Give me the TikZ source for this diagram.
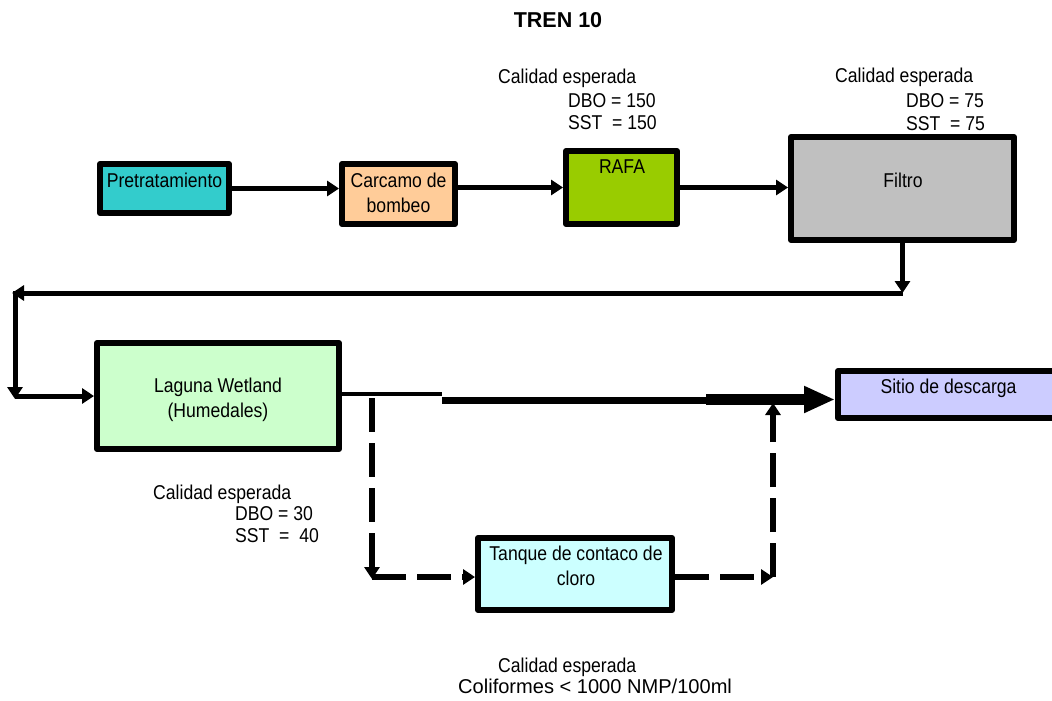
\documentclass[tikz,border=0pt]{standalone}
\usepackage{graphicx}
\usepackage{fontspec}
\setmainfont{Liberation Sans}[FakeStretch=0.88]
\newfontfamily\titlefont{Liberation Sans}
\usetikzlibrary{arrows.meta}
\definecolor{cPre}{HTML}{33CCCC}
\definecolor{cCar}{HTML}{FFCC99}
\definecolor{cRafa}{HTML}{99CC00}
\definecolor{cFil}{HTML}{C0C0C0}
\definecolor{cLag}{HTML}{CCFFCC}
\definecolor{cSit}{HTML}{CCCCFF}
\definecolor{cTan}{HTML}{CCFFFF}
\begin{document}
\begin{tikzpicture}[x=1pt,y=-1pt,
  box/.style={draw=black, line width=6pt, line join=round, inner sep=0pt, outer sep=3pt},
  txt/.style={inner sep=0pt, anchor=base, font=\fontsize{20}{24}\selectfont},
  ltxt/.style={txt, anchor=base west},
  arr/.style={line width=5pt, -{Triangle[length=12pt,width=15pt]}},
  dsh/.style={arr, line width=5.5pt, dash pattern=on 34pt off 11pt}]
\useasboundingbox (0,0) rectangle (1052,701);
% title
\node[inner sep=0pt, anchor=base, font={\titlefont\fontsize{21.5}{26}\selectfont\bfseries}] (title) at (558,28) {TREN 10};
% boxes
\node[box, fill=cPre, minimum width=129pt, minimum height=49pt] (pre) at (164.5,188.5) {};
\node[txt] (preT) at (164.5,187) {Pretratamiento};
\node[box, fill=cCar, minimum width=113pt, minimum height=60pt] (car) at (398.5,194) {};
\node[txt] (carT1) at (398.5,187) {Carcamo de};
\node[txt] (carT2) at (398.5,212) {bombeo};
\node[box, fill=cRafa, minimum width=111pt, minimum height=73pt] (rafa) at (621.5,187.5) {};
\node[txt] (rafaT) at (622,173) {RAFA};
\node[box, fill=cFil, minimum width=223pt, minimum height=103pt] (fil) at (902.5,188.5) {};
\node[txt] (filT) at (903,187) {Filtro};
\node[box, fill=cLag, minimum width=242pt, minimum height=106pt] (lag) at (218,396) {};
\node[txt] (lagT1) at (218,392) {Laguna Wetland};
\node[txt] (lagT2) at (218,417) {(Humedales)};
\node[box, fill=cSit, minimum width=221pt, minimum height=47pt] (sit) at (948.5,394.5) {};
\node[txt] (sitT) at (948.5,393) {Sitio de descarga};
\node[box, fill=cTan, minimum width=194pt, minimum height=72pt] (tan) at (575,574) {};
\node[txt] (tanT1) at (576,560) {Tanque de contaco de};
\node[txt] (tanT2) at (576,585) {cloro};
% quality annotations
\node[ltxt] (q1a) at (498,83) {Calidad esperada};
\node[ltxt] (q1b) at (568,107) {DBO = 150};
\node[ltxt] (q1c) at (568,129) {SST\ \ = 150};
\node[ltxt] (q2a) at (835,82) {Calidad esperada};
\node[ltxt] (q2b) at (906,107) {DBO = 75};
\node[ltxt] (q2c) at (906,130) {SST\ \ = 75};
\node[ltxt] (q3a) at (153,499) {Calidad esperada};
\node[ltxt] (q3b) at (235,520) {DBO = 30};
\node[ltxt] (q3c) at (235,542) {SST\ \ =\ \ 40};
\node[ltxt] (q4a) at (498,672) {Calidad esperada};
\node[ltxt] (q4b) at (458,693) {\scalebox{1.14}[1]{Coliformes < 1000 NMP/100ml}};
% top row connectors
\draw[arr] (pre.east) -- (car.west |- pre.east);
\draw[arr] (car.east |- rafa.west) -- (rafa.west);
\draw[arr] (rafa.east) -- (fil.west |- rafa.east);
% return loop
\coordinate (c1) at (902.5,293);
\coordinate (c2) at (12,293);
\coordinate (c3) at (15,293);
\coordinate (c4) at (15,399);
\coordinate (c5) at (15,396);
\draw[arr] (fil.south) -- (c1);
\draw[arr] (c1) -- (c2);
\draw[arr, line cap=rect] (c3) -- (c4);
\draw[arr] (c5) -- (lag.west);
% main outlet
\path (lag.east) ++(0,-2) coordinate (m0);
\coordinate (m1) at (442,394);
\coordinate (m2) at (442,400.5);
\coordinate (m3) at (706,400.5);
\coordinate (m4) at (706,399.5);
\draw[line width=4pt] (m0) -- (m1);
\draw[line width=7pt] (m2) -- (m3);
\draw[line width=11pt, -{Triangle[length=31pt,width=25pt]}] (m4) -- (sit.west |- m4);
% dashed bypass via chlorine contact tank
\coordinate (d0) at (372,398);
\coordinate (d1) at (372,579);
\coordinate (d2) at (372,577);
\coordinate (d3) at (773,577);
\coordinate (d4) at (773,403);
\draw[dsh] (d0) -- (d1);
\draw[dsh] (d2) -- (tan.west |- d2);
\draw[dsh] (tan.east |- d2) -- (d3);
\draw[dsh] (d3) -- (d4);
\end{tikzpicture}
\end{document}
